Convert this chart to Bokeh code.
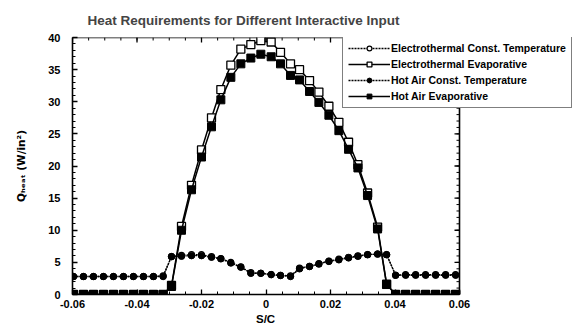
import numpy as np
from bokeh.plotting import figure
from bokeh.models import (Range1d, SingleIntervalTicker, FixedTicker,
                          Legend, LegendItem, Title)
from bokeh.embed import file_html
from bokeh.resources import INLINE

# ---- data ----
s_c = [-0.0597, -0.0566, -0.0535, -0.0504, -0.0473, -0.0442, -0.0411, -0.0380,
       -0.0349, -0.0319, -0.0293, -0.0262, -0.0231, -0.0200, -0.0169, -0.0140,
       -0.0109, -0.0078, -0.0047, -0.0016, 0.0016, 0.0045, 0.0076, 0.0104,
       0.0135, 0.0164, 0.0195, 0.0226, 0.0256, 0.0285, 0.0315, 0.0346,
       0.0374, 0.0402, 0.0433, 0.0464, 0.0495, 0.0526, 0.0557, 0.0588]

et_const = [2.8, 2.8, 2.8, 2.8, 2.8, 2.8, 2.8, 2.8, 2.8, 2.9,
            5.9, 6.1, 6.2, 6.2, 5.9, 5.6, 5.0, 4.3, 3.4, 3.3,
            3.1, 3.0, 2.9, 4.1, 4.4, 4.8, 5.2, 5.5, 5.8, 6.0,
            6.2, 6.3, 6.2, 3.0, 3.1, 3.1, 3.1, 3.1, 3.1, 3.1]

et_evap = [0, 0, 0, 0, 0, 0, 0, 0, 0, 0,
           1.4, 10.6, 17.0, 22.5, 27.5, 31.9, 35.7, 38.2, 38.9, 39.5,
           39.3, 37.7, 35.9, 35.0, 33.3, 31.5, 29.3, 26.8, 23.7, 20.2,
           15.8, 10.5, 1.6, 0, 0, 0, 0, 0, 0, 0]

ha_const = [2.8, 2.8, 2.8, 2.8, 2.8, 2.8, 2.8, 2.8, 2.8, 2.8,
            5.9, 5.95, 6.05, 6.05, 5.8, 5.55, 4.9, 4.25, 3.3, 3.3,
            3.1, 2.95, 2.8, 4.0, 4.35, 4.75, 5.15, 5.4, 5.7, 5.95,
            6.2, 6.3, 6.2, 3.0, 3.0, 3.0, 3.0, 3.0, 3.0, 3.0]

ha_evap = [0, 0, 0, 0, 0, 0, 0, 0, 0, 0,
           1.25, 10.0, 16.3, 21.4, 26.1, 30.3, 33.8, 35.9, 36.8, 37.4,
           37.0, 35.9, 34.1, 33.4, 31.6, 29.9, 27.9, 25.5, 22.6, 19.7,
           15.4, 10.2, 1.55, 0, 0, 0, 0, 0, 0, 0]

series_names = ["Electrothermal Const. Temperature", "Electrothermal Evaporative",
                "Hot Air Const. Temperature", "Hot Air Evaporative"]

x_ticks = [-0.06, -0.04, -0.02, 0, 0.02, 0.04, 0.06]
x_tick_labels = ["-0.06", "-0.04", "-0.02", "0", "0.02", "0.04", "0.06"]

title_text = "Heat Requirements for Different Interactive Input"
x_title = "S/C"
y_title = "Q\u2095\u2091\u2090\u209c (W/in\u00b2)"

FONT = "Liberation Sans"

# layout: plotting box 387 px for the S/C axis, the frame is stretched to the
# right edge of the canvas so the legend can overhang the axis box
X0, X1 = -0.06, 0.06
Y0, Y1 = 0, 40
W, H = 572, 328
LEFT, TOP, BOTTOM = 72, 37, 34
BOX_W = 387
frame_w = W - LEFT
frame_h = H - TOP - BOTTOM
x_end = X0 + (X1 - X0) * frame_w / BOX_W
dx_px = (X1 - X0) / BOX_W      # data units per pixel (x)
dy_px = (Y1 - Y0) / frame_h    # data units per pixel (y)

p = figure(width=W, height=H, output_backend="svg", toolbar_location=None,
           x_range=Range1d(X0, x_end), y_range=Range1d(Y0, Y1),
           min_border_left=LEFT, min_border_right=0, min_border_top=TOP,
           min_border_bottom=BOTTOM, background_fill_color="white",
           border_fill_color="white", outline_line_color=None)
p.grid.visible = False

p.title.text = title_text
p.title.text_font = FONT
p.title.text_font_size = "13.5px"
p.title.text_font_style = "bold"
p.title.align = "left"
p.title.offset = 15
p.title.standoff = 19

minor_x = list(np.round(np.arange(X0, X1 + 1e-4, 0.005), 4))
xticker = FixedTicker(ticks=x_ticks, minor_ticks=minor_x)
yticker = SingleIntervalTicker(interval=5, num_minor_ticks=5)


def style_axis(ax):
    ax.axis_line_width = 1.6
    ax.axis_line_color = "black"
    ax.major_tick_in = 5
    ax.major_tick_out = 0
    ax.minor_tick_in = 3
    ax.minor_tick_out = 0
    ax.major_tick_line_width = 1.3
    ax.minor_tick_line_width = 1
    ax.major_label_text_font = FONT
    ax.major_label_text_font_style = "bold"
    ax.major_label_text_font_size = "11px"
    ax.major_label_text_color = "black"
    ax.axis_label_text_font = FONT
    ax.axis_label_text_font_style = "bold"
    ax.axis_label_text_font_size = "11px"
    ax.axis_label_text_color = "black"


xax = p.xaxis[0]
xax.ticker = xticker
xax.bounds = (X0, X1)
xax.major_label_overrides = {t: l for t, l in zip(x_ticks, x_tick_labels)}
style_axis(xax)
xax.major_label_standoff = 5

# S/C title centred under the axis box (not under the stretched frame)
xt = Title(text=x_title, align="left", offset=(BOX_W / 2) - 10,
           text_font=FONT, text_font_size="11.5px", text_font_style="bold",
           text_color="black", standoff=0)
p.add_layout(xt, "below")

yax = p.yaxis[0]
yax.ticker = yticker
style_axis(yax)
yax.major_label_standoff = 12
yax.axis_label = y_title
yax.axis_label_standoff = 18
yax.axis_label_text_font = "DejaVu Sans"
yax.axis_label_text_font_size = "10.5px"

# top and right frame edges with inward ticks (no labels)
y_minor = list(range(Y0, Y1 + 1))
y_major = [v for v in y_minor if v % 5 == 0]
p.segment(x0=[X1, X0], y0=[Y0, Y1], x1=[X1, X1], y1=[Y1, Y1],
          line_color="black", line_width=1.6)
p.segment(x0=[X1] * len(y_minor), y0=y_minor,
          x1=[X1 - 3 * dx_px] * len(y_minor), y1=y_minor,
          line_color="black", line_width=1)
p.segment(x0=[X1] * len(y_major), y0=y_major,
          x1=[X1 - 5 * dx_px] * len(y_major), y1=y_major,
          line_color="black", line_width=1.3)
p.segment(x0=minor_x, y0=[Y1] * len(minor_x),
          x1=minor_x, y1=[Y1 - 3 * dy_px] * len(minor_x),
          line_color="black", line_width=1)
p.segment(x0=x_ticks, y0=[Y1] * len(x_ticks),
          x1=x_ticks, y1=[Y1 - 5 * dy_px] * len(x_ticks),
          line_color="black", line_width=1.3)

# ---- series ----
l1 = p.line(s_c, et_const, line_color="black", line_width=1.3, line_dash="2 1")
m1 = p.scatter(s_c, et_const, marker="circle", size=6, fill_color="white",
               line_color="black", line_width=1.2)
l2 = p.line(s_c, et_evap, line_color="black", line_width=1.5)
m2 = p.scatter(s_c, et_evap, marker="square", size=8, fill_color="white",
               line_color="black", line_width=1.3)
l3 = p.line(s_c, ha_const, line_color="black", line_width=1.3, line_dash="2 1")
m3 = p.scatter(s_c, ha_const, marker="circle", size=6.5, fill_color="black",
               line_color="black")
l4 = p.line(s_c, ha_evap, line_color="black", line_width=1.5)
m4 = p.scatter(s_c, ha_evap, marker="square", size=8, fill_color="black",
               line_color="black")

legend = Legend(items=[LegendItem(label=series_names[0], renderers=[l1, m1]),
                       LegendItem(label=series_names[1], renderers=[l2, m2]),
                       LegendItem(label=series_names[2], renderers=[l3, m3]),
                       LegendItem(label=series_names[3], renderers=[l4, m4])],
                location=(270, 186))
legend.border_line_color = "black"
legend.border_line_width = 1.8
legend.background_fill_color = "white"
legend.background_fill_alpha = 1
legend.label_text_font = FONT
legend.label_text_font_size = "10.5px"
legend.label_text_font_style = "bold"
legend.label_text_color = "black"
legend.glyph_width = 42
legend.glyph_height = 12
legend.label_height = 12
legend.label_standoff = 1
legend.spacing = 4
legend.padding = 5
legend.margin = 0
p.add_layout(legend)

open("out.html", "w").write(file_html(p, INLINE))
